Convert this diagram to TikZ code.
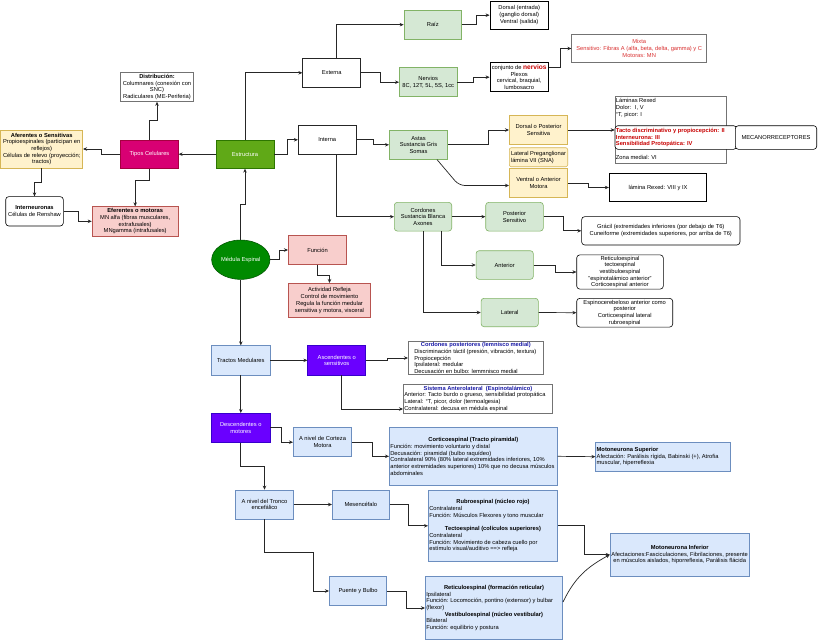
\documentclass[tikz,border=0pt]{standalone}
\usepackage{fontspec}
\setmainfont{Liberation Sans}
\usetikzlibrary{arrows.meta,positioning,calc,shapes.geometric}
\definecolor{leaffill}{HTML}{D5E8D4}
\definecolor{leafdraw}{HTML}{82B366}
\definecolor{sandfill}{HTML}{FFF2CC}
\definecolor{sanddraw}{HTML}{D6B656}
\definecolor{rosefill}{HTML}{F8CECC}
\definecolor{rosedraw}{HTML}{B85450}
\definecolor{skyfill}{HTML}{DAE8FC}
\definecolor{skydraw}{HTML}{6C8EBF}
\definecolor{grassfill}{HTML}{60A917}
\definecolor{grassdraw}{HTML}{2D7600}
\definecolor{forestfill}{HTML}{008A00}
\definecolor{forestdraw}{HTML}{005700}
\definecolor{magfill}{HTML}{D80073}
\definecolor{magdraw}{HTML}{A50040}
\definecolor{violetfill}{HTML}{6A00FF}
\definecolor{violetdraw}{HTML}{3700CC}
\definecolor{alertred}{HTML}{C80000}
\definecolor{softred}{HTML}{D93030}
\definecolor{titleblue}{HTML}{1A1AA6}

\begin{document}
\begin{tikzpicture}[x=1pt, y=-1pt,
    base/.style={rectangle, draw, line width=0.6pt, align=center, inner sep=1pt, font=\fontsize{5.75}{6.7}\selectfont},
    sz/.style 2 args={minimum width=#1pt, minimum height=#2pt},
    plain/.style={base, draw=black!85, fill=white},
    greybox/.style={base, draw=black!55, fill=white},
    frame/.style={base, draw=black, fill=white, line width=0.9pt},
    soft/.style={base, draw=black, fill=white, rounded corners=3pt},
    leaf/.style={base, draw=leafdraw, fill=leaffill},
    leafsoft/.style={leaf, rounded corners=3pt},
    sand/.style={base, draw=sanddraw, fill=sandfill},
    rose/.style={base, draw=rosedraw, fill=rosefill},
    sky/.style={base, draw=skydraw, fill=skyfill},
    skyinfo/.style={sky, align=left},
    grass/.style={base, draw=grassdraw, fill=grassfill, text=white},
    mag/.style={base, draw=magdraw, fill=magfill, text=white},
    violet/.style={base, draw=violetdraw, fill=violetfill, text=white},
    txt/.style={font=\fontsize{5.75}{6.7}\selectfont, inner sep=1pt, align=left},
    arrow/.style={-{Stealth[length=4pt, width=3.5pt]}, line width=0.7pt, black!85}
]
    \useasboundingbox[fill=white] (0,0) rectangle (818,640);

    % left side
    \node[greybox, sz={72.6}{29}] (distrib) at (157,87) {\textbf{Distribución:}\\Columnares (conexión con\\SNC)\\Radiculares (ME-Periferia)};
    \node[sand, sz={82}{38}] (aferentes) at (41.7,149) {\textbf{Aferentes o Sensitivas}\\Propioespinales (participan en\\reflejos)\\Células de relevo (proyección;\\tractos)};
    \node[mag, sz={57.6}{28.3}] (tipos) at (149.5,154.2) {Tipos Celulares};
    \node[grass, sz={58}{28.3}] (estructura) at (245,154.2) {Estructura};
    \node[soft, sz={57.6}{29.3}] (interneur) at (34.5,211.3) {\textbf{Interneuronas}\\Células de Renshaw};
    \node[rose, sz={86.3}{29.3}] (eferentes) at (135.2,221.3) {\textbf{Eferentes o motoras}\\MN alfa (fibras musculares,\\extrafusales)\\MNgamma (intrafusales)};

    % estructura externa / interna
    \node[plain, sz={58}{29}] (externa) at (331.7,72.8) {Externa};
    \node[leaf, sz={57.7}{29.3}] (raiz) at (432.8,24.7) {Raíz};
    \node[leaf, sz={57.7}{29}] (nervios) at (428.2,82.2) {Nervios\\8C, 12T, 5L, 5S, 1cc};
    \node[frame, sz={58.3}{28.3}] (dorsalent) at (519.2,15.2) {Dorsal (entrada)\\(ganglio dorsal)\\Ventral (salida)};
    \node[frame, sz={58.3}{29}] (conjunto) at (519.2,77.2) {conjunto de {\color{alertred}\fontsize{6.6}{6.7}\selectfont\bfseries nervios}\\Plexos\\cervical, braquial,\\lumbosacro};
    \node[greybox, sz={135}{28.4}, text=softred] (mixta) at (639.2,48.5) {Mixta\\Sensitivo: Fibras A (alfa, beta, delta, gamma) y C\\Motoras: MN};

    \node[plain, sz={58}{29}] (interna) at (327.2,139.8) {Interna};
    \node[leaf, sz={58.4}{29}] (astas) at (418.5,144.8) {Astas\\Sustancia Gris\\Somas};
    \node[sand, sz={58.4}{28.6}] (dorsalpost) at (538.5,130) {Dorsal o Posterior\\Sensitiva};
    \node[sand, sz={58.4}{19}, rounded corners=2pt, align=left] (lateralpre) at (538.5,157.2) {Lateral Preganglionar\\lámina VII (SNA)};
    \node[sand, sz={58.4}{29.4}] (ventral) at (538.5,183) {Ventral o Anterior\\Motora};

    \node[greybox, sz={111}{67.3}] (laminas) at (670.5,129.7) {};
    \node[txt, anchor=north west, yshift=-1.5pt] (lamtop) at (laminas.north west) {Láminas Rexed\\Dolor:~ I, V\\°T, picor: I};
    \node[soft, sz={121.7}{23.6}, align=left, text=alertred, font=\fontsize{5.75}{6.7}\selectfont\bfseries] (lamred) at (675.8,137.5) {\makebox[119.7pt][l]{Tacto discriminativo y propiocepción: II}\\Interneurona: III\\Sensibilidad Protopática: IV};
    \node[txt, anchor=south west, yshift=3pt] (lamzona) at (laminas.south west) {Zona medial: VI};
    \node[soft, sz={81.4}{23.6}] (mecano) at (776,137.5) {MECANORRECEPTORES};
    \node[frame, sz={97.4}{28.4}] (lamina89) at (658,187.5) {lámina Rexed: VIII y IX};

    \node[leafsoft, sz={57.4}{28.7}] (cordones) at (423,216.7) {Cordones\\Sustancia Blanca\\Axones};
    \node[leafsoft, sz={57.6}{28.7}] (postsens) at (514.5,216.7) {Posterior\\Sensitivo};
    \node[soft, sz={158.3}{28.3}] (gracil) at (660.8,230.8) {Grácil (extremidades inferiores (por debajo de T6)\\Cuneiforme (extremidades superiores, por arriba de T6)};
    \node[leafsoft, sz={57.3}{28.6}] (anterior) at (504.7,265) {Anterior};
    \node[soft, sz={86.6}{34}] (antlist) at (620,272) {Reticuloespinal\\tectoespinal\\vestibuloespinal\\"espinotalámico anterior"\\Corticoespinal anterior};
    \node[leafsoft, sz={57.3}{28.4}] (lateral) at (509.7,312.5) {Lateral};
    \node[soft, sz={96}{28.7}] (espino) at (624.7,312.7) {Espinocerebeloso anterior como\\posterior\\Corticoespinal lateral\\rubroespinal};

    % medula y funcion
    \node[base, ellipse, draw=forestdraw, fill=forestfill, text=white, sz={58.3}{39.3}, inner sep=0pt] (medula) at (240.8,259.7) {Médula Espinal};
    \node[rose, sz={58.4}{28.6}] (funcion) at (317.5,250) {Función};
    \node[rose, sz={82.4}{34.4}] (actividad) at (329.5,300.5) {Actividad Refleja\\Control de movimiento\\Regula la función medular\\sensitiva y motora, visceral};

    % tractos
    \node[sky, sz={58.3}{29.3}] (tractos) at (240.8,360.3) {Tractos Medulares};
    \node[violet, sz={58}{29.3}] (ascend) at (336.7,360.3) {Ascendentes o\\sensitivos};
    \node[greybox, sz={135}{32.6}, align=left, inner xsep=6pt] (cordpost) at (475.8,358) {\makebox[123pt]{\color{titleblue}\bfseries Cordones posteriores (lemnisco medial)}\\Discriminación táctil (presión, vibración, textura)\\Propiocepción\\Ipsilateral: medular\\Decusación en bulbo: lemmnisco medial};
    \node[greybox, sz={149.4}{29.3}, align=left] (sistant) at (478,398.7) {\makebox[147.4pt]{\color{titleblue}\bfseries Sistema Anterolateral~ (Espinotalámico)}\\Anterior: Tacto burdo o grueso, sensibilidad protopática\\Lateral: °T, picor, dolor (termoalgesia)\\Contralateral: decusa en médula espinal};

    \node[violet, sz={58.3}{29}] (descend) at (240.8,427.8) {Descendentes o\\motores};
    \node[sky, sz={58.4}{29}] (corteza) at (322.5,442.2) {A nivel de Corteza\\Motora};
    \node[skyinfo, sz={168}{57.3}] (cortico) at (473.3,456.3) {\makebox[166pt]{\bfseries Corticoespinal (Tracto piramidal)}\\Función: movimiento voluntario y distal\\Decusación: piramidal (bulbo raquídeo)\\Contralateral 90\% (80\% lateral extremidades inferiores, 10\%\\anterior extremidades superiores) 10\% que no decusa músculos\\abdominales};
    \node[skyinfo, sz={135}{28.7}] (motsup) at (663.2,456.7) {\makebox[133pt][l]{\bfseries Motoneurona Superior}\\Afectación: Parálisis rígida, Babinski (+), Atrofia\\muscular, hiperreflexia};

    \node[sky, sz={57.6}{29}] (tronco) at (264.5,504.5) {A nivel del Tronco\\encefálico};
    \node[sky, sz={57}{29}] (mesen) at (360.8,504.5) {Mesencéfalo};
    \node[skyinfo, sz={129.4}{71.7}] (rubro) at (493,525.8) {\makebox[127.4pt]{\bfseries Rubroespinal (núcleo rojo)}\\Contralateral\\Función: Músculos Flexores y tono muscular\\[6.7pt]\makebox[127.4pt]{\bfseries Tectoespinal (colículos superiores)}\\Contralateral\\Función: Movimiento de cabeza cuello por\\estímulo visual/auditivo ==> refleja};
    \node[sky, sz={57.4}{28.6}] (puente) at (358,591) {Puente y Bulbo};
    \node[skyinfo, sz={137.4}{62.6}] (retic) at (494,608) {\makebox[135.4pt]{\bfseries Reticuloespinal (formación reticular)}\\Ipsilateral\\Función: Locomoción, pontino (extensor) y bulbar\\(flexor)\\\makebox[135.4pt]{\bfseries Vestibuloespinal (núcleo vestibular)}\\Bilateral\\Función: equilibrio y postura};
    \node[sky, sz={139.3}{42.7}] (motinf) at (679.7,554.7) {\textbf{Motoneurona Inferior}\\Afectaciones:Fasciculaciones, Fibrilaciones, presente\\en músculos aislados, hiporreflexia, Parálisis flácida};

    % connectors
    \draw[arrow] (estructura) -- (tipos);
    \draw[arrow] (tipos.north) -- ++(0,-19.5) -| (distrib.south);
    \draw[arrow] (tipos.west) -- ++(-19,0) |- (aferentes.east);
    \draw[arrow] (aferentes.south) -- ++(0,14.5) -| (interneur.north);
    \draw[arrow] (interneur.east) -- ++(14.7,0) |- (eferentes.west);
    \draw[arrow] (tipos.south) -- ++(0,12) -| (eferentes.north);

    \draw[arrow] (estructura.north) |- (externa.west);
    \draw[arrow] ([xshift=4.6pt]externa.north) |- (raiz.west);
    \draw[arrow] (externa.east) -- ++(19.3,0) |- (nervios.west);
    \draw[arrow] (raiz.east) -- ++(14.3,0) |- (dorsalent.west);
    \draw[arrow] (nervios.east) -- ++(16.3,0) |- (conjunto.west);
    \draw[arrow] ([yshift=9.5pt]conjunto.east) -- ++(11.7,0) |- (mixta.west);

    \draw[arrow] (estructura.east) -- ++(12.7,0) |- (interna.west);
    \draw[arrow] (interna.east) -- ++(16.7,0) |- (astas.west);
    \draw[arrow] ([xshift=9.5pt]interna.south) |- (cordones.west);
    \draw[arrow] (astas.east) -- ++(40.6,0) |- (dorsalpost.west);
    \draw[arrow, rounded corners=6pt] ([xshift=-11pt]astas.south east) -- ([xshift=-50pt,yshift=-2.5pt]ventral.west) -- ([yshift=-2.5pt]ventral.west);
    \draw[arrow] (dorsalpost.east) -- (dorsalpost.east -| laminas.west);
    \draw[arrow] (ventral.east) -- ++(20.6,0) |- (lamina89.west);

    \draw[arrow] (cordones.east) -- (postsens.west);
    \draw[arrow] ([xshift=18.7pt]cordones.south) |- (anterior.west);
    \draw[arrow] (cordones.south) |- (lateral.west);
    \draw[arrow] (postsens.east) -- ++(19.4,0) |- (gracil.west);
    \draw[arrow] (anterior.east) -- ++(21.7,0) |- (antlist.west);
    \draw[arrow] (lateral.east) -- (espino.west);

    \draw[arrow] (medula.north) -- ++(0,-35.7) -| (estructura.south);
    \draw[arrow] (medula.east) -- ++(9,0) |- (funcion.west);
    \draw[arrow] (funcion.south) -- ++(0,10.7) -| (actividad.north);
    \draw[arrow] (medula.south) -- (tractos.north);

    \draw[arrow] (tractos.east) -- (ascend.west);
    \draw[arrow] (ascend.east) -- ++(21.6,0) |- (cordpost.west);
    \draw[arrow] ([xshift=5pt]ascend.south) |- ([yshift=-10.3pt]sistant.west);
    \draw[arrow] (tractos.south) -- (descend.north);

    \draw[arrow] (descend.east) -- ++(11,0) |- (corteza.west);
    \draw[arrow] (corteza.east) -- ++(20,0) |- (cortico.west);
    \draw[arrow] (descend.south) -- ++(0,23.4) -| (tronco.north);
    \draw[arrow] (cortico.east) -- (motsup.west);
    \draw[arrow] (tronco.east) -- (mesen.west);
    \draw[arrow] (mesen.east) -- ++(19,0) |- (rubro.west);
    \draw[arrow] (tronco.south) -- ++(0,33.3) -| ([xshift=-16pt]puente.west) -- (puente.west);
    \draw[arrow] (puente.east) -- ++(19.3,0) |- (retic.west);
    \draw[arrow] (rubro.east) -- ++(26.3,0) |- (motinf.west);
    \draw[arrow] ([yshift=6pt]retic.east) .. controls +(12,-25) and +(-22,12) .. (motinf.west);
\end{tikzpicture}
\end{document}
